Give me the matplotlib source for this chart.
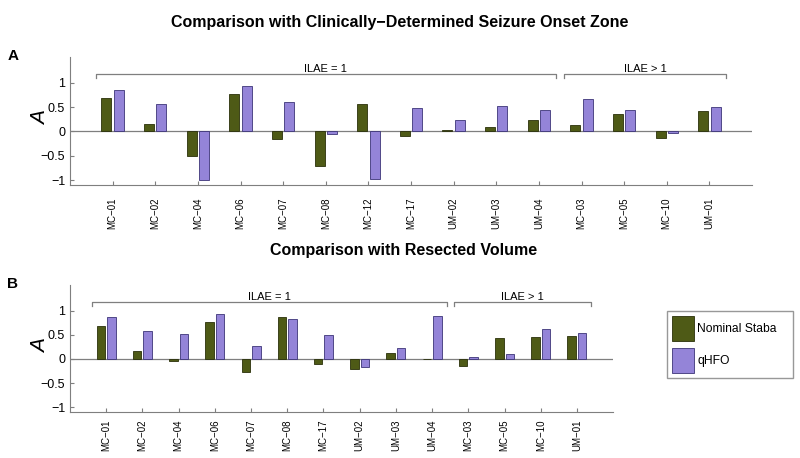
import numpy as np
import matplotlib
matplotlib.use('Agg')
from matplotlib import pyplot as plt
from matplotlib.patches import Patch

plt.rcParams['font.family'] = ['Liberation Sans', 'DejaVu Sans']

# panel A: clinically-determined seizure onset zone
labels_a = ['MC−01', 'MC−02', 'MC−04', 'MC−06', 'MC−07', 'MC−08', 'MC−12', 'MC−17',
            'UM−02', 'UM−03', 'UM−04', 'MC−03', 'MC−05', 'MC−10', 'UM−01']
staba_a = [0.69, 0.16, -0.51, 0.77, -0.15, -0.71, 0.56, -0.10,
           0.04, 0.09, 0.23, 0.13, 0.36, -0.14, 0.42]
qhfo_a = [0.86, 0.57, -1.0, 0.94, 0.60, -0.05, -0.97, 0.49,
          0.23, 0.53, 0.45, 0.67, 0.45, -0.03, 0.51]
n_good_a = 11  # ILAE = 1 count

# panel B: resected volume
labels_b = ['MC−01', 'MC−02', 'MC−04', 'MC−06', 'MC−07', 'MC−08', 'MC−17', 'UM−02',
            'UM−03', 'UM−04', 'MC−03', 'MC−05', 'MC−10', 'UM−01']
staba_b = [0.69, 0.16, -0.05, 0.76, -0.27, 0.86, -0.10, -0.21,
           0.12, -0.01, -0.15, 0.43, 0.45, 0.47]
qhfo_b = [0.86, 0.57, 0.52, 0.93, 0.26, 0.82, 0.50, -0.16,
          0.23, 0.89, 0.04, 0.11, 0.62, 0.54]
n_good_b = 10

green = '#4e5a16'
purple = '#9484d8'
grey = '#7f7f7f'


def draw_panel(ax, labels, staba, qhfo, n_good, label_x, xpad):
    n = len(labels)
    x = np.arange(1, n + 1)
    ax.bar(x - 0.145, staba, 0.235, color=green, edgecolor='#2a300a', linewidth=0.6)
    ax.bar(x + 0.145, qhfo, 0.235, color=purple, edgecolor='#3c3478', linewidth=0.6)
    ax.axhline(0, color=grey, lw=0.9, zorder=0)
    ax.set_xlim(0, n + 1)
    ax.set_ylim(-1.1, 1.53)
    ax.set_yticks([-1, -0.5, 0, 0.5, 1])
    ax.set_yticklabels(['−1', '−0.5', '0', '0.5', '1'], fontsize=9)
    ax.set_xticks(x)
    ax.set_xticklabels(labels, rotation=90, fontsize=7)
    ax.tick_params(axis='x', pad=xpad, direction='in', length=3, color=grey)
    ax.tick_params(axis='y', direction='in', length=3, color=grey)
    for s in ['top', 'right']:
        ax.spines[s].set_visible(False)
    for s in ['left', 'bottom']:
        ax.spines[s].set_color(grey)
    ax.set_ylabel('A', fontsize=15, style='italic')
    ax.yaxis.set_label_coords(label_x, 0.52)
    # ILAE brackets
    groups = [(0.6, n_good + 0.4, 'ILAE = 1'), (n_good + 0.6, n + 0.4, 'ILAE > 1')]
    yb = 1.18
    for x0, x1, txt in groups:
        ax.plot([x0, x0, x1, x1], [yb - 0.09, yb, yb, yb - 0.09], color=grey, lw=0.9,
                clip_on=False)
        ax.text((x0 + x1) / 2, yb + 0.01, txt, ha='center', va='bottom', fontsize=8)


fig = plt.figure(figsize=(8, 4.58), dpi=100)
ax_a = fig.add_axes([0.0875, 0.596, 0.8525, 0.2795])
ax_b = fig.add_axes([0.0875, 0.1004, 0.679, 0.277])

draw_panel(ax_a, labels_a, staba_a, qhfo_a, n_good_a, -0.029, 9)
draw_panel(ax_b, labels_b, staba_b, qhfo_b, n_good_b, -0.037, 5.5)

fig.text(0.5, 1 - 23 / 458, 'Comparison with Clinically−Determined Seizure Onset Zone',
         ha='center', va='center', fontsize=11.5, fontweight='bold')
fig.text(0.505, 1 - 250 / 458, 'Comparison with Resected Volume',
         ha='center', va='center', fontsize=11.5, fontweight='bold')
fig.text(13 / 800, 1 - 56 / 458, 'A', ha='center', va='center', fontsize=11, fontweight='bold')
fig.text(13 / 800, 1 - 284 / 458, 'B', ha='center', va='center', fontsize=11, fontweight='bold')

handles = [Patch(facecolor=green, edgecolor='#2a300a', linewidth=0.6, label='Nominal Staba'),
           Patch(facecolor=purple, edgecolor='#3c3478', linewidth=0.6, label='qHFO')]
leg_box = (667 / 800, 1 - 381 / 458, 126 / 800, 70 / 458)
fig.legend(handles=handles, loc='upper left', bbox_to_anchor=leg_box, mode='expand',
           fontsize=8.7, frameon=True, fancybox=False, edgecolor=grey,
           handlelength=1.85, handleheight=2.85, labelspacing=0.55, handletextpad=0.25,
           borderpad=0.42, borderaxespad=0)

fig.savefig('out.png', dpi=100)
